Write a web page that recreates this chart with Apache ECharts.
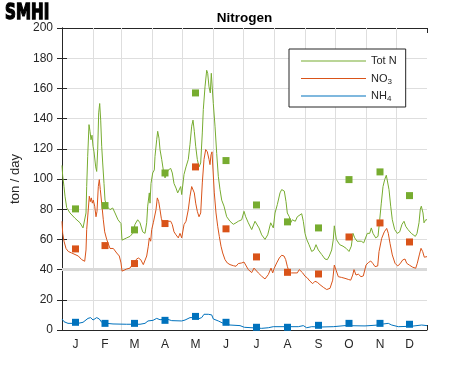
<!DOCTYPE html>
<html><head><meta charset="utf-8">
<script src="https://cdn.jsdelivr.net/npm/echarts@6/dist/echarts.min.js"></script>
<style>html,body{margin:0;padding:0;background:#fff}#c{width:471px;height:371px}</style>
</head><body><div id="c"></div>
<script>
const monthLabels = ['J','F','M','A','M','J','J','A','S','O','N','D'];
const monthStarts = [0,31,59,90,120,151,181,212,243,273,304,334,365];
const sampleDays = [13.5,43,72.5,103,133.5,164,194.5,225.5,256.5,287,318,347.5];
const yMin = 0, yMax = 200, yStep = 20;

const totN = [[0,109],[0.7,102],[2,95],[3,88.6],[4.7,81],[8,77.5],[13,74],[18,71],[21,67.6],[22.7,67.6],[24,77.5],[24.7,95],[25.7,115],[27,136],[28,131.6],[29,126],[30,129],[31,121.7],[32,118],[33.7,108],[34.7,105],[35.7,119.5],[36.7,143.8],[37.7,150],[38.7,139],[39.7,121.7],[40.7,110.6],[42,97],[43,86],[44.7,82],[48,79.7],[50.7,80.8],[53,77.5],[56,73],[59,70.5],[60,59.5],[64.7,61],[68,62],[70.7,64],[73,70],[75.7,73],[78,71],[80.7,65],[83,64],[84.7,71],[85.7,82],[87.3,90.8],[88,84],[89,97],[90.7,104],[92.3,106],[93,115],[94.7,126],[95.7,131.6],[97,127],[98,119.5],[99.7,113],[101.3,106],[103,100.7],[104.7,101.8],[106.3,106],[108.7,107],[110.3,104],[112,97],[114,94],[115.7,90.8],[117.3,89.7],[118.7,95],[119.7,89.7],[120.7,88.6],[122,103],[124,108],[126.3,113],[128,123],[129.7,135],[131,139],[132.3,131.6],[133.7,121.7],[135.3,113],[137,108],[138.7,110.6],[140.3,130.5],[141.3,146],[143,161],[144.7,172],[145.7,170],[147,161],[148.3,157],[149.3,170],[150.3,170],[151.3,150],[153,135],[154.7,117],[156.3,101.8],[158,93],[159.7,86],[162,82],[164.7,75],[168,72],[171.3,70],[174,71],[176.3,72],[178,71],[179.7,73],[182,78.6],[183.7,75],[186.3,71],[189.7,66.5],[193,72],[194.7,73],[197,67.6],[199.7,63],[203,60],[205.7,63],[208.7,71],[211.3,67.6],[213,77.5],[215.3,83],[218,90.8],[219.7,93],[222.3,92],[224,85],[225.3,77.5],[227.3,75],[228.7,71],[230.3,73],[232,74],[233.3,72],[235.3,75],[237.3,76],[239.7,77],[241.3,72],[243,64],[244.7,60],[247,56.5],[249.7,52],[252,53],[254,56.5],[256.3,53],[259.7,50],[263,47],[265.3,46.6],[267.3,49],[269.7,53],[271.3,60],[272.3,69],[274.3,60],[277.7,56.5],[281,55.5],[284.3,54],[287,52],[289.3,55.5],[291,64],[292.7,61],[295,58.8],[297,60],[299.3,58.8],[301.7,57.7],[303.3,58.8],[305.3,64],[307.7,64],[309.3,67.6],[311,64],[313.7,61],[316,62],[317.7,73],[319.3,84],[321,95],[322.7,99.6],[324.3,102.5],[325.3,101.8],[327,93],[328.7,82],[330.3,73],[332.7,66.5],[335.3,64],[337.7,65],[340,70],[342,72],[343.7,68.7],[346,66.5],[349.3,64],[353.3,62],[355,64],[357,71],[358.3,80],[359.3,82],[361,77.5],[362,71],[363.7,73],[365,73]];

const no3 = [[0,72],[0.7,64],[2,58.8],[4,54],[6.3,52],[9.7,51],[13,50],[16.3,49],[19.7,46.6],[22.7,45.5],[24,53],[24.7,66.5],[26,77.5],[27.3,88.6],[28.3,85],[29.3,87.5],[30.3,84],[31.3,86],[32.7,82],[34,75],[35,78.6],[36.3,95],[37.3,99.6],[38.3,93],[39.7,84],[41.3,73],[42.7,65],[44.7,60],[48,54],[51.3,54],[54.7,51],[57.3,49],[59,44.4],[60,39],[61.3,40],[64.7,40.4],[68,41],[71.3,44.4],[74,46.6],[76.3,47.7],[78.7,46.6],[81.3,43.3],[83,42.2],[84.7,49],[86.3,55.5],[87.3,61],[88.7,58.8],[89.7,66.5],[91.3,71],[92.3,71],[94,79.7],[95.3,87.5],[96.7,85],[98,79.7],[99.3,74],[100.7,71],[103,69.8],[104.7,68.7],[106.3,72],[108.7,72],[110.3,69.8],[112,65],[114,63],[116.3,61],[118,64],[119.7,61],[120.7,60],[122,69.8],[124,72],[126.3,79.7],[128,88.6],[129.7,95],[131,96],[132.3,90.8],[133.7,84],[135.3,78.6],[137,75],[138.7,77.5],[140.3,97.4],[142,113],[143.7,119.5],[145.3,118],[147,113],[148,109.5],[149,116],[150,118],[151,106],[152.3,90.8],[154,77.5],[155.7,68.7],[157.3,62],[159,55.5],[160.7,51],[163,46.6],[165.3,44.4],[168,43.3],[171.3,42.6],[174,42.2],[176.3,44],[179.7,44.4],[182,45],[184,45.5],[186.3,40],[188,41],[189.7,38],[192,41],[194,41.8],[196.3,37.8],[199.7,35.6],[203,33.8],[206.3,36.7],[209,41],[210.7,37.8],[212.3,41],[214.7,44.4],[217.3,47.7],[219.7,49.5],[222,49],[223.7,46.6],[225.3,42.2],[227.3,38],[229.7,37.8],[231.3,39],[233,37.8],[235.3,37.8],[237.3,40],[239,40.7],[240.7,37.8],[243,35.6],[245.3,34.5],[248,32.3],[250.7,30.7],[253,32.3],[255.3,31.6],[258,30],[261.3,28.3],[264.7,26.8],[266.3,26.5],[268,27.6],[270.7,33],[272.3,43],[274,39.7],[276.3,35.3],[279.7,34.8],[283,34.2],[286.3,33.5],[288.7,33],[290.7,36.4],[292,40],[294,36.4],[296.3,37],[299,35.3],[301.3,35.8],[303,34.8],[304,43],[306.3,44.6],[308.7,45.7],[310.7,44.2],[313,42],[315.7,42.4],[317,51.9],[319.7,60.7],[322.3,65],[324.7,67.3],[326.3,64],[328,57.4],[330.3,49.7],[333,44.2],[335.7,42.4],[338,43.8],[340.7,46.4],[343,47],[344.7,44.2],[347.3,43],[350.7,41.6],[353.7,40.9],[355.3,44.2],[357.3,49.7],[359,54.1],[360.7,51.9],[362.3,48.2],[365,48.6]];

const nh4 = [[0,7.3],[2,5.5],[6,4.4],[16,4.4],[21,5.1],[26,7.7],[28.7,8.2],[31,6.6],[34.7,8.2],[37.3,7.3],[39.7,5.1],[44.7,4.4],[51,4],[64.7,3.8],[78,3.8],[83,4.4],[86,6],[91,6.4],[94.7,7.7],[98,6.8],[104.7,7.3],[109.7,6.2],[119.7,6],[123,6.6],[128,8.2],[131,8.2],[136,7.3],[139.7,8.2],[142,10.4],[146.3,10.4],[149.7,10],[151.3,7.3],[156.3,6],[161.3,4.4],[168,3.3],[178,2.9],[182.3,1.8],[199.7,1.1],[206.3,1.5],[211.3,2.2],[223,2.2],[236.3,2.2],[241.3,2.9],[244.7,1.5],[249.7,2.2],[259.7,2],[271.3,2.2],[273,2.9],[283,2.9],[303,2.7],[316.3,3.3],[321.3,4],[326.3,4.4],[329.7,3.3],[336.3,2.2],[349.7,2.5],[359.7,3.3],[365,2.9]];

const totNSamples = [80.2,82.4,66.3,104,157,112.2,82.8,71.6,67.6,99.6,104.7,89];
const no3Samples = [53.7,55.9,44,70.5,108,67,48.4,38.2,37.1,61.6,70.9,58.3];
const nh4Samples = [5.1,4.4,4.4,6.4,9,5.1,1.8,1.8,3.1,4.4,4.4,3.8];

const C_TOT = '#77ac30', C_NO3 = '#d95319', C_NH4 = '#0072bd';
const AX = '#262626', GRID = '#dedede';
const FONT = 'Liberation Sans';

const pairs = (vals) => vals.map((v, i) => [sampleDays[i], v]);

const chart = echarts.init(document.getElementById('c'), null, {renderer: 'canvas'});

const xAxisBase = {
  type: 'value', min: monthStarts[0], max: monthStarts[monthStarts.length - 1],
  axisLine: {show: true, onZero: false, lineStyle: {color: AX, width: 1}},
  axisTick: {show: true, inside: true, length: 5, customValues: monthStarts, lineStyle: {color: AX}},
  splitLine: {show: false}
};

const monthGrid = monthStarts.slice(1, -1).map(d => ({xAxis: d}));

chart.setOption({
  animation: false,
  textStyle: {fontFamily: FONT},
  grid: {left: 62, right: 44, top: 28, bottom: 41, containLabel: false},
  graphic: [
    {type: 'text', x: 4, y: 3, scaleX: 0.72, originX: 4, style: {text: 'SMHI', font: 'bold 21px "DejaVu Sans"', fill: '#000', stroke: '#000', lineWidth: 1.4}},
    {type: 'text', x: 244.5, y: 18, style: {text: 'Nitrogen', font: 'bold 13.5px "Liberation Sans"', fill: '#000', textAlign: 'center', textVerticalAlign: 'middle'}}
  ],
  legend: {
    left: 289, top: 49, orient: 'vertical',
    data: ['Tot N', 'NO3', 'NH4'],
    icon: 'rect', itemWidth: 65, itemHeight: 1, itemGap: 3.5,
    padding: [5, 9, 4, 12],
    backgroundColor: '#fff', borderColor: AX, borderWidth: 1, borderRadius: 0,
    formatter: (n) => n === 'NO3' ? 'NO{s|3}' : n === 'NH4' ? 'NH{s|4}' : n,
    textStyle: {fontFamily: FONT, fontSize: 11, color: AX, lineHeight: 14,
      rich: {s: {fontFamily: FONT, fontSize: 8, color: AX, lineHeight: 14, verticalAlign: 'bottom', padding: [6, 0, 0, 0]}}}
  },
  xAxis: [
    Object.assign({}, xAxisBase, {
      position: 'bottom',
      axisLabel: {show: true, customValues: sampleDays, margin: 9, color: AX, fontSize: 12, fontFamily: FONT,
        formatter: (v) => { const i = sampleDays.indexOf(v); return i >= 0 ? monthLabels[i] : ''; }}
    }),
    Object.assign({}, xAxisBase, {position: 'top', axisLabel: {show: false}})
  ],
  yAxis: [
    {type: 'value', min: yMin, max: yMax, interval: yStep, position: 'left',
      name: 'ton / day', nameLocation: 'middle', nameGap: 38,
      nameTextStyle: {color: AX, fontSize: 13, fontFamily: FONT},
      axisLine: {show: true, lineStyle: {color: AX}},
      axisTick: {show: true, inside: true, length: 5, lineStyle: {color: AX}},
      axisLabel: {color: AX, fontSize: 12, margin: 9, fontFamily: FONT},
      splitLine: {show: true, lineStyle: {color: GRID, width: 1}}},
    {type: 'value', min: yMin, max: yMax, interval: yStep, position: 'right',
      axisLine: {show: true, lineStyle: {color: AX}},
      axisTick: {show: true, inside: true, length: 5, lineStyle: {color: AX}},
      axisLabel: {show: false}, splitLine: {show: false}}
  ],
  series: [
    {type: 'line', name: 'grid', data: [], z: 1, silent: true,
      markLine: {silent: true, z: 1, symbol: 'none', label: {show: false}, animation: false,
        lineStyle: {color: GRID, width: 1, type: 'solid'},
        data: monthGrid.concat([{yAxis: 40, lineStyle: {color: '#d9d9d9', width: 3, type: 'solid'}}])}},
    {type: 'line', name: 'Tot N', data: totN, showSymbol: false, symbol: 'none', z: 3,
      lineStyle: {color: C_TOT, width: 1}, itemStyle: {color: C_TOT}},
    {type: 'line', name: 'NO3', data: no3, showSymbol: false, symbol: 'none', z: 3,
      lineStyle: {color: C_NO3, width: 1}, itemStyle: {color: C_NO3}},
    {type: 'line', name: 'NH4', data: nh4, showSymbol: false, symbol: 'none', z: 3,
      lineStyle: {color: C_NH4, width: 1}, itemStyle: {color: C_NH4}},
    {type: 'scatter', name: 'Tot N samples', data: pairs(totNSamples), symbol: 'rect', symbolSize: 7, z: 4, itemStyle: {color: C_TOT, opacity: 1}},
    {type: 'scatter', name: 'NO3 samples', data: pairs(no3Samples), symbol: 'rect', symbolSize: 7, z: 4, itemStyle: {color: C_NO3, opacity: 1}},
    {type: 'scatter', name: 'NH4 samples', data: pairs(nh4Samples), symbol: 'rect', symbolSize: 7, z: 4, itemStyle: {color: C_NH4, opacity: 1}}
  ]
});
</script></body></html>
